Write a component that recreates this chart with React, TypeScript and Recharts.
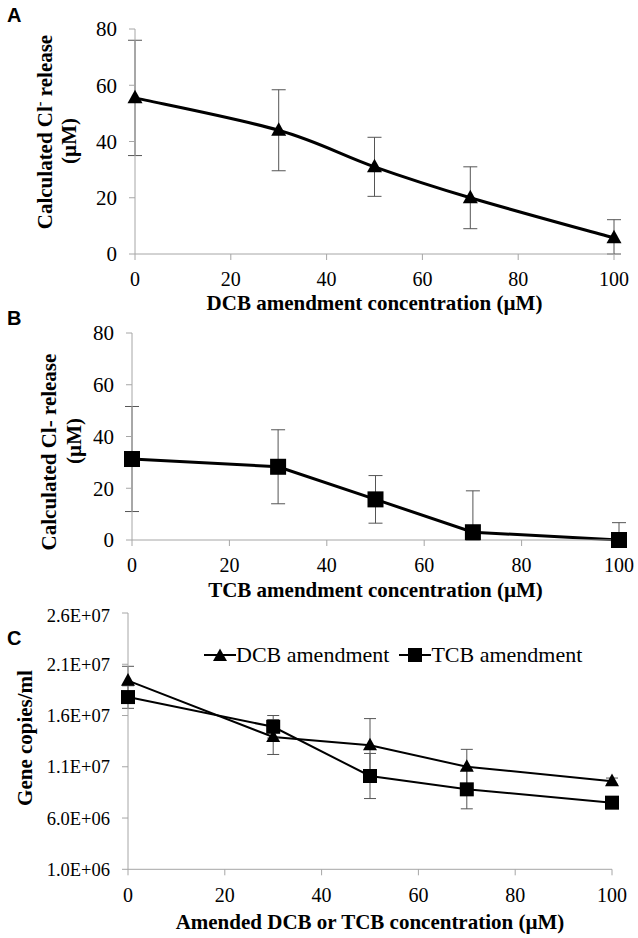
import React from 'react';
import { LineChart, Line, XAxis, YAxis, ErrorBar, Label, Legend } from 'recharts';

// amendment concentrations (µM), shared by all three panels
const concentrations = [0, 30, 50, 70, 100];
const xTicks = [0, 20, 40, 60, 80, 100];

// A: calculated Cl- release after DCB amendment (µM)
const dcbChloride = [55.5, 44, 31, 20, 5.7];
const dcbChlorideErr = [20.5, 14.4, 10.5, 11, 6.5];

// B: calculated Cl- release after TCB amendment (µM)
const tcbChloride = [31.3, 28.3, 15.7, 3, 0];
const tcbChlorideErr = [20.3, 14.3, 9.2, 16, 6.7];

const chlorideTicks = [0, 20, 40, 60, 80];

// C: gene copies/ml
const seriesNames = ['DCB amendment', 'TCB amendment'];
const dcbCopies = [19.4e6, 13.9e6, 13.1e6, 11.0e6, 9.6e6];
const dcbCopiesErr = [1.4e6, 1.7e6, 2.6e6, 1.7e6, 0.3e6];
const tcbCopies = [17.8e6, 14.9e6, 10.1e6, 8.8e6, 7.5e6];
const tcbCopiesErr = [1.1e6, 1.1e6, 2.2e6, 1.9e6, 0.5e6];
const copyTicks = [1e6, 6e6, 11e6, 16e6, 21e6, 26e6];

const serif = '"Liberation Serif", "Times New Roman", serif';
const sans = '"Liberation Sans", Arial, sans-serif';
const axisGray = '#a6a6a6';
const errGray = '#555555';

// excel stops the error bar at the axis, so the lower arm is clamped
const buildRows = (vals: number[], errs: number[], floor: number) =>
  concentrations.map((x, i) => ({
    x,
    y: vals[i],
    err: [Math.min(errs[i], vals[i] - floor), errs[i]],
  }));

const rowsA = buildRows(dcbChloride, dcbChlorideErr, 0);
const rowsB = buildRows(tcbChloride, tcbChlorideErr, 0);
const rowsCdcb = buildRows(dcbCopies, dcbCopiesErr, 1e6);
const rowsCtcb = buildRows(tcbCopies, tcbCopiesErr, 1e6);

// 1.6E+07 style labels
const sciLabel = (v: number) => {
  const [m, e] = v.toExponential(1).split('e');
  const n = Math.abs(Number(e));
  return `${m}E${Number(e) < 0 ? '-' : '+'}${n < 10 ? '0' + n : n}`;
};

// excel "smoothed line": catmull-rom style bezier through the points
const excelSmooth = (context: any) => {
  let pts: number[][] = [];
  return {
    areaStart() {},
    areaEnd() {},
    lineStart() {
      pts = [];
    },
    point(x: number, y: number) {
      pts.push([+x, +y]);
    },
    lineEnd() {
      if (!pts.length) return;
      context.moveTo(pts[0][0], pts[0][1]);
      for (let i = 0; i < pts.length - 1; i++) {
        const p0 = pts[Math.max(i - 1, 0)];
        const p1 = pts[i];
        const p2 = pts[i + 1];
        const p3 = pts[Math.min(i + 2, pts.length - 1)];
        context.bezierCurveTo(
          p1[0] + (p2[0] - p0[0]) / 6,
          p1[1] + (p2[1] - p0[1]) / 6,
          p2[0] - (p3[0] - p1[0]) / 6,
          p2[1] - (p3[1] - p1[1]) / 6,
          p2[0],
          p2[1]
        );
      }
    },
  };
};

const triangle = (size: number) => (props: any) => {
  const { cx, cy } = props;
  if (cx == null || cy == null) return <g key={`t-${props.index}`} />;
  const h = size * 0.9;
  return (
    <path
      key={`t-${props.index}`}
      d={`M${cx},${cy - h * 0.6}L${cx + size / 2},${cy + h * 0.4}L${cx - size / 2},${cy + h * 0.4}Z`}
      fill='#000'
    />
  );
};

const square = (size: number) => (props: any) => {
  const { cx, cy } = props;
  if (cx == null || cy == null) return <g key={`s-${props.index}`} />;
  return <rect key={`s-${props.index}`} x={cx - size / 2} y={cy - size / 2} width={size} height={size} fill='#000' />;
};

const xTick = (size: number) => (props: any) => (
  <text x={props.x} y={props.y} dy='0.71em' textAnchor='middle' fontFamily={serif} fontSize={size} fill='#000'>
    {props.payload.value}
  </text>
);

const yTick = (size: number, fmt?: (v: number) => string) => (props: any) => (
  <text x={props.x} y={props.y} dy='0.355em' textAnchor='end' fontFamily={serif} fontSize={size} fill='#000'>
    {fmt ? fmt(props.payload.value) : props.payload.value}
  </text>
);

const xTitle = (text: string, dy: number) => (props: any) => {
  const vb = props.viewBox;
  return (
    <text x={vb.x + vb.width / 2} y={vb.y + dy} textAnchor='middle' fontFamily={serif} fontWeight='bold' fontSize={21} fill='#000'>
      {text}
    </text>
  );
};

const ChlorideTitle = ({ sup, l1, l2 }: { sup: boolean; l1: [number, number]; l2: [number, number] }) => (
  <g fontFamily={serif} fontWeight='bold' fontSize={21} fill='#000'>
    <text transform={`translate(${l1[0]},${l1[1]}) rotate(-90)`} textAnchor='middle'>
      Calculated Cl
      {sup ? (
        <tspan fontSize={14} dy={-8}>-</tspan>
      ) : (
        '-'
      )}
      {sup ? <tspan dy={8}> release</tspan> : ' release'}
    </text>
    <text transform={`translate(${l2[0]},${l2[1]}) rotate(-90)`} textAnchor='middle'>
      (µM)
    </text>
  </g>
);

const LegendBox = () => (
  <div style={{ display: 'flex', alignItems: 'center', fontFamily: serif, fontSize: 22, color: '#000', whiteSpace: 'nowrap' }}>
    <svg width={32} height={20}>
      <line x1={0} y1={10} x2={32} y2={10} stroke='#000' strokeWidth={2} />
      {triangle(14)({ cx: 16, cy: 11, index: 0 })}
    </svg>
    <span style={{ marginRight: 10 }}>{seriesNames[0]}</span>
    <svg width={32} height={20}>
      <line x1={0} y1={10} x2={32} y2={10} stroke='#000' strokeWidth={2} />
      {square(14)({ cx: 16, cy: 10, index: 0 })}
    </svg>
    <span>{seriesNames[1]}</span>
  </div>
);

export default function App() {
  return (
    <div style={{ position: 'absolute', left: 0, top: 0, width: 638, height: 938, background: '#fff' }}>
      {/* A */}
      <div style={{ position: 'absolute', left: 0, top: 0 }}>
        <LineChart width={638} height={316} data={rowsA} margin={{ top: 29, right: 24, left: 0, bottom: 0 }}>
          <XAxis
            type='number'
            dataKey='x'
            domain={[0, 100]}
            ticks={xTicks}
            stroke={axisGray}
            tick={xTick(20)}
            tickSize={6}
            tickMargin={12}
            height={62}
          >
            <Label content={xTitle('DCB amendment concentration (µM)', 56)} />
          </XAxis>
          <YAxis
            type='number'
            domain={[0, 80]}
            ticks={chlorideTicks}
            stroke={axisGray}
            tick={yTick(21)}
            tickSize={6}
            tickMargin={12}
            width={135}
          >
            <Label content={() => <ChlorideTitle sup l1={[52, 132]} l2={[76, 141]} />} />
          </YAxis>
          <Line
            type={excelSmooth as any}
            dataKey='y'
            stroke='#000'
            strokeWidth={3}
            dot={triangle(15)}
            activeDot={false}
            isAnimationActive={false}
          >
            <ErrorBar dataKey='err' width={7} stroke={errGray} strokeWidth={1} direction='y' />
          </Line>
        </LineChart>
      </div>

      {/* B */}
      <div style={{ position: 'absolute', left: 0, top: 316 }}>
        <LineChart width={638} height={290} data={rowsB} margin={{ top: 17, right: 19, left: 0, bottom: 0 }}>
          <XAxis
            type='number'
            dataKey='x'
            domain={[0, 100]}
            ticks={xTicks}
            stroke={axisGray}
            tick={xTick(20)}
            tickSize={6}
            tickMargin={12}
            height={66}
          >
            <Label content={xTitle('TCB amendment concentration (µM)', 57)} />
          </XAxis>
          <YAxis
            type='number'
            domain={[0, 80]}
            ticks={chlorideTicks}
            stroke={axisGray}
            tick={yTick(21)}
            tickSize={6}
            tickMargin={12}
            width={132}
          >
            <Label content={() => <ChlorideTitle sup={false} l1={[56, 136]} l2={[81, 125]} />} />
          </YAxis>
          <Line
            type='linear'
            dataKey='y'
            stroke='#000'
            strokeWidth={3}
            dot={square(16)}
            activeDot={false}
            isAnimationActive={false}
          >
            <ErrorBar dataKey='err' width={7} stroke={errGray} strokeWidth={1} direction='y' />
          </Line>
        </LineChart>
      </div>

      {/* C */}
      <div style={{ position: 'absolute', left: 0, top: 606 }}>
        <LineChart width={638} height={332} margin={{ top: 7, right: 26, left: 0, bottom: 0 }}>
          <XAxis
            type='number'
            dataKey='x'
            domain={[0, 100]}
            ticks={xTicks}
            stroke={axisGray}
            tick={xTick(20)}
            tickSize={6}
            tickMargin={12}
            height={68.7}
            allowDuplicatedCategory={false}
          >
            <Label content={xTitle('Amended DCB or TCB concentration (µM)', 60)} />
          </XAxis>
          <YAxis
            type='number'
            domain={[1e6, 26e6]}
            ticks={copyTicks}
            stroke={axisGray}
            tick={yTick(18.5, sciLabel)}
            tickSize={6}
            tickMargin={12}
            width={128}
          >
            <Label
              content={() => (
                <text
                  transform='translate(32,132) rotate(-90)'
                  textAnchor='middle'
                  fontFamily={serif}
                  fontWeight='bold'
                  fontSize={21}
                  fill='#000'
                >
                  Gene copies/ml
                </text>
              )}
            />
          </YAxis>
          <Legend
            verticalAlign='middle'
            align='center'
            content={() => <LegendBox />}
            wrapperStyle={{ position: 'absolute', left: 204, top: 36, width: 'auto' }}
          />
          <Line
            data={rowsCdcb}
            name={seriesNames[0]}
            type='linear'
            dataKey='y'
            stroke='#000'
            strokeWidth={2}
            dot={triangle(14)}
            activeDot={false}
            isAnimationActive={false}
          >
            <ErrorBar dataKey='err' width={6} stroke={errGray} strokeWidth={1} direction='y' />
          </Line>
          <Line
            data={rowsCtcb}
            name={seriesNames[1]}
            type='linear'
            dataKey='y'
            stroke='#000'
            strokeWidth={2}
            dot={square(14)}
            activeDot={false}
            isAnimationActive={false}
          >
            <ErrorBar dataKey='err' width={6} stroke={errGray} strokeWidth={1} direction='y' />
          </Line>
        </LineChart>
      </div>

      {/* panel letters */}
      <svg width={638} height={938} style={{ position: 'absolute', left: 0, top: 0, pointerEvents: 'none' }}>
        <g fontFamily={sans} fontWeight='bold' fontSize={20} fill='#000'>
          <text x={7} y={22}>A</text>
          <text x={7} y={325}>B</text>
          <text x={7} y={645}>C</text>
        </g>
      </svg>
    </div>
  );
}
